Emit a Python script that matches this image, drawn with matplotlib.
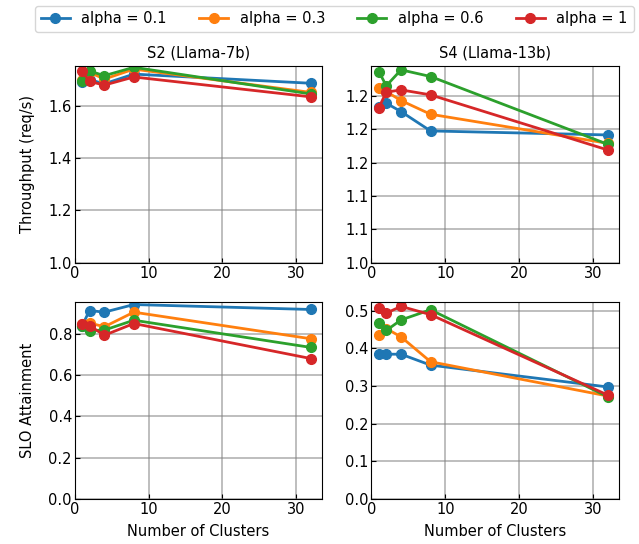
import matplotlib
matplotlib.use("Agg")
import matplotlib.pyplot as plt
from matplotlib.ticker import FormatStrFormatter

clusters = [1, 2, 4, 8, 32]
alphas = ["0.1", "0.3", "0.6", "1"]
colors = ["#1f77b4", "#ff7f0e", "#2ca02c", "#d62728"]

# throughput (req/s), S2 Llama-7b
tput_s2 = {
    "0.1": [1.689, 1.700, 1.684, 1.721, 1.686],
    "0.3": [1.700, 1.728, 1.702, 1.740, 1.651],
    "0.6": [1.693, 1.733, 1.715, 1.747, 1.645],
    "1":   [1.732, 1.693, 1.679, 1.710, 1.634],
}
# throughput (req/s), S4 Llama-13b
tput_s4 = {
    "0.1": [1.234, 1.239, 1.2265, 1.1975, 1.1915],
    "0.3": [1.2615, 1.2565, 1.243, 1.2225, 1.179],
    "0.6": [1.2865, 1.265, 1.289, 1.279, 1.1775],
    "1":   [1.2325, 1.2555, 1.259, 1.2515, 1.169],
}
# SLO attainment, S2
slo_s2 = {
    "0.1": [0.840, 0.913, 0.905, 0.942, 0.918],
    "0.3": [0.848, 0.853, 0.834, 0.905, 0.776],
    "0.6": [0.840, 0.816, 0.818, 0.866, 0.734],
    "1":   [0.848, 0.840, 0.793, 0.850, 0.680],
}
# SLO attainment, S4
slo_s4 = {
    "0.1": [0.384, 0.384, 0.384, 0.355, 0.297],
    "0.3": [0.434, 0.452, 0.430, 0.364, 0.273],
    "0.6": [0.467, 0.447, 0.475, 0.502, 0.271],
    "1":   [0.506, 0.493, 0.511, 0.489, 0.2755],
}

titles = ["S2 (Llama-7b)", "S4 (Llama-13b)"]

plt.rcParams["font.size"] = 10.5
fig, axes = plt.subplots(2, 2, figsize=(6.39, 5.44), dpi=100)
fig.subplots_adjust(left=0.117, right=0.969, top=0.879, bottom=0.083,
                    wspace=0.198, hspace=0.198)

panels = [[tput_s2, tput_s4], [slo_s2, slo_s4]]
bottoms = [1.0, 0.0]
for r in range(2):
    for c in range(2):
        ax = axes[r][c]
        data = panels[r][c]
        for a, col in zip(alphas, colors):
            ax.plot(clusters, data[a], marker="o", color=col, lw=2,
                    markersize=7, label=f"alpha = {a}")
        ax.set_xlim(left=0)
        ax.set_ylim(bottom=bottoms[r])
        ax.grid(True, color="gray", alpha=0.6, lw=1.2)
        ax.tick_params(direction="in", pad=2)
        ax.yaxis.set_major_formatter(FormatStrFormatter("%.1f"))
        if r == 0:
            ax.set_title(titles[c], fontsize=10.5, pad=6)
        else:
            ax.set_xlabel("Number of Clusters", labelpad=5)

axes[0][0].set_ylabel("Throughput (req/s)", labelpad=10)
axes[1][0].set_ylabel("SLO Attainment", labelpad=10)

handles, labels = axes[0][0].get_legend_handles_labels()
fig.legend(handles, labels, loc="upper center", ncol=4,
           bbox_to_anchor=(0.523, 1.003), fontsize=10.5, columnspacing=2.2)

fig.savefig("out.png", dpi=100)
